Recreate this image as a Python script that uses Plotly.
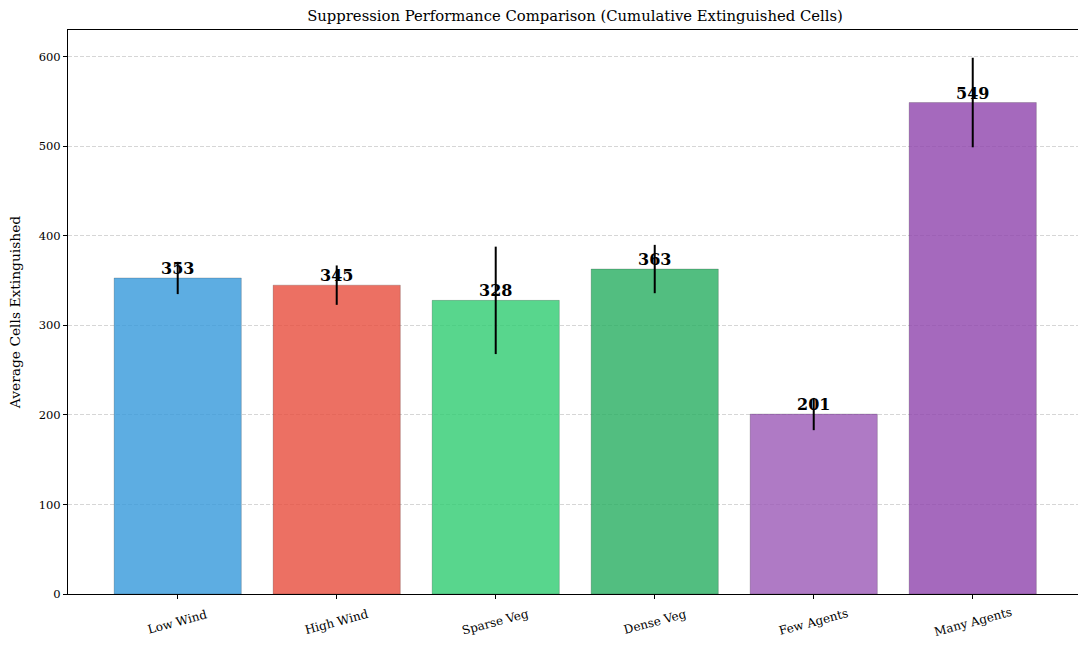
import plotly.graph_objects as go

categories = ["Low Wind", "High Wind", "Sparse Veg", "Dense Veg", "Few Agents", "Many Agents"]
means = [353, 345, 328, 363, 201, 549]
errors = [18, 22, 60, 27, 18, 50]
colors = ["rgba(52,152,219,0.8)", "rgba(231,76,60,0.8)", "rgba(46,204,113,0.8)",
          "rgba(39,174,96,0.8)", "rgba(155,89,182,0.8)", "rgba(142,68,173,0.8)"]
y_ticks = [0, 100, 200, 300, 400, 500, 600]

FONT = "DejaVu Serif"
xs = list(range(len(categories)))

fig = go.Figure()
fig.add_trace(go.Bar(
    x=xs, y=means, width=0.8,
    marker=dict(color=colors, line=dict(color="rgba(0,0,0,0.3)", width=0.6)),
    error_y=dict(type="data", array=errors, visible=True, color="black", thickness=2, width=0),
    showlegend=False, hoverinfo="skip",
))
fig.add_trace(go.Scatter(
    x=xs, y=means, mode="text", text=[str(v) for v in means],
    textposition="top center",
    textfont=dict(family=FONT, size=16, color="black", weight="bold"),
    showlegend=False, cliponaxis=False, hoverinfo="skip",
))

# rotated category labels centred under each tick (matplotlib style)
for x, c in zip(xs, categories):
    fig.add_annotation(x=x, xref="x", y=-28 / 564, yref="paper", text=c,
                       showarrow=False, textangle=-15, xanchor="center", yanchor="middle",
                       font=dict(family=FONT, size=12, color="black"))

fig.update_layout(
    width=1078, height=646,
    margin=dict(l=68, r=0, t=30, b=52),
    paper_bgcolor="white", plot_bgcolor="white",
    font=dict(family=FONT, size=11.5, color="black"),
    title=dict(text="Suppression Performance Comparison (Cumulative Extinguished Cells)",
               x=575 / 1078, xanchor="center", y=1 - 16 / 646, yanchor="middle",
               font=dict(family=FONT, size=14.8, color="black")),
    bargap=0.2,
)
fig.update_xaxes(
    range=[-0.69, 5.662], tickmode="array", tickvals=xs, showticklabels=False,
    showline=True, linecolor="black", linewidth=1.2, mirror=True,
    ticks="outside", ticklen=4, tickcolor="black", showgrid=False, zeroline=False,
)
fig.update_yaxes(
    range=[0, 630], tickmode="array", tickvals=y_ticks,
    showline=True, linecolor="black", linewidth=1.2,
    ticks="outside", ticklen=4, tickcolor="black",
    showgrid=True, gridcolor="rgba(0,0,0,0.16)", griddash="4px,2px", gridwidth=0.8,
    zeroline=False, tickfont=dict(family=FONT, size=11.5),
    title=dict(text="Average Cells Extinguished", font=dict(family=FONT, size=13.8), standoff=14),
)

fig.write_html("out.html")
